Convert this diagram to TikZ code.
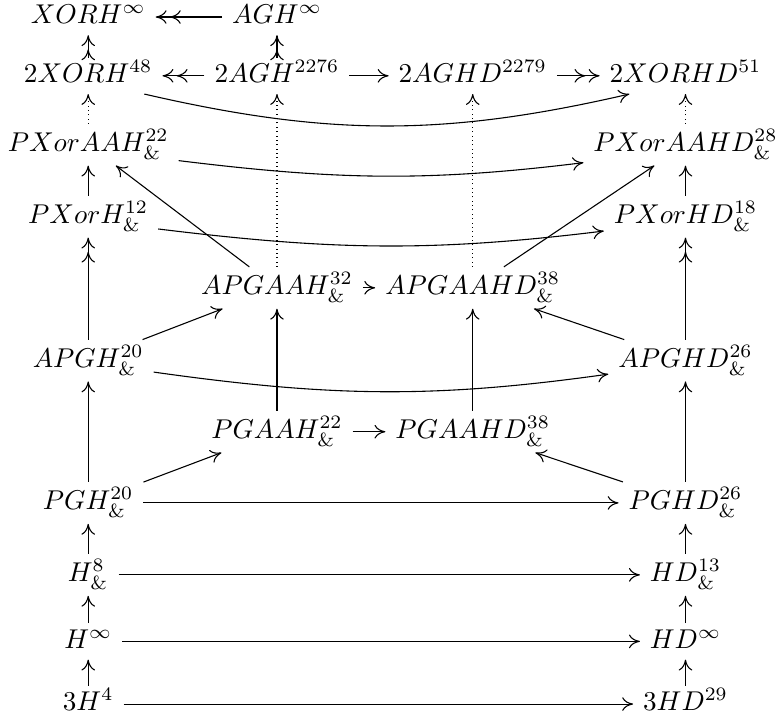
\documentclass[tikz,border=0pt]{standalone}
\usepackage{amsmath,amssymb}
\usepackage{tikz}
\usetikzlibrary{arrows.meta}

\begin{document}
\begin{tikzpicture}[
  >={Computer Modern Rightarrow[length=4pt,width=5pt]},
  obj/.style={inner xsep=3.5pt, inner ysep=1.5pt, text height=8.5pt, text depth=3.5pt},
  objtop/.style={inner xsep=3.5pt, inner ysep=1pt, text height=8pt, text depth=3pt},
  hom/.style={->},
  epi/.style={-{>[sep=1.2pt]>}},
  dothom/.style={->, dash pattern=on 0.3pt off 1.3pt}
]
  \useasboundingbox (0,0) rectangle (10.03,9.29);

  \node[objtop] (xorhinf) at (1.14,9.07) {$XORH^{\infty}$};
  \node[objtop] (aghinf)  at (3.58,9.07) {$AGH^{\infty}$};
  \node[objtop] (xorh2)   at (1.14,8.31) {$2XORH^{48}$};
  \node[objtop] (agh2)    at (3.58,8.31) {$2AGH^{2276}$};
  \node[objtop] (aghd2)   at (6.11,8.31) {$2AGHD^{2279}$};
  \node[objtop] (xorhd2)  at (8.86,8.31) {$2XORHD^{51}$};
  \node[obj] (pxaah)   at (1.14,7.42) {$PXorAAH^{22}_{\&}$};
  \node[obj] (pxaahd)  at (8.86,7.42) {$PXorAAHD^{28}_{\&}$};
  \node[obj] (pxh)     at (1.14,6.49) {$PXorH^{12}_{\&}$};
  \node[obj] (pxhd)    at (8.86,6.49) {$PXorHD^{18}_{\&}$};
  \node[obj] (apgaah)  at (3.58,5.57) {$APGAAH^{32}_{\&}$};
  \node[obj] (apgaahd) at (6.11,5.57) {$APGAAHD^{38}_{\&}$};
  \node[obj] (apgh)    at (1.14,4.63) {$APGH^{20}_{\&}$};
  \node[obj] (apghd)   at (8.86,4.63) {$APGHD^{26}_{\&}$};
  \node[obj] (pgaah)   at (3.58,3.71) {$PGAAH^{22}_{\&}$};
  \node[obj] (pgaahd)  at (6.11,3.71) {$PGAAHD^{38}_{\&}$};
  \node[obj] (pgh)     at (1.14,2.79) {$PGH^{20}_{\&}$};
  \node[obj] (pghd)    at (8.86,2.79) {$PGHD^{26}_{\&}$};
  \node[obj] (h8)      at (1.14,1.86) {$H^{8}_{\&}$};
  \node[obj] (hd13)    at (8.86,1.86) {$HD^{13}_{\&}$};
  \node[objtop] (hinf)  at (1.14,1.00) {$H^{\infty}$};
  \node[objtop] (hdinf) at (8.86,1.00) {$HD^{\infty}$};
  \node[objtop] (h3)    at (1.14,0.19) {$3H^{4}$};
  \node[objtop] (hd3)   at (8.86,0.19) {$3HD^{29}$};

  \draw[epi] (aghinf) -- (xorhinf);
  \draw[epi] (xorh2) -- (xorhinf);
  \draw[epi] (agh2) -- (aghinf);
  \draw[epi] (agh2) -- (xorh2);
  \draw[hom] (agh2) -- (aghd2);
  \draw[epi] (aghd2) -- (xorhd2);
  \draw[hom] (xorh2.-18) to[out=-13,in=193] (xorhd2.198);

  \draw[dothom] (pxaah) -- (xorh2);
  \draw[dothom] (apgaah) -- (agh2);
  \draw[dothom] (apgaahd) -- (aghd2);
  \draw[dothom] (pxaahd) -- (xorhd2);

  \draw[hom] (pxaah.-10) to[out=-7,in=187] (pxaahd.190);
  \draw[hom] (pxh) -- (pxaah);
  \draw[hom] (pxhd) -- (pxaahd);
  \draw[hom] (pxh.-10) to[out=-7,in=187] (pxhd.190);
  \draw[hom] (apgaah) -- (pxaah);
  \draw[hom] (apgaahd) -- (pxaahd);
  \draw[hom] (apgaah) -- (apgaahd);

  \draw[epi] (apgh) -- (pxh);
  \draw[epi] (apghd) -- (pxhd);
  \draw[hom] (apgh) -- (apgaah);
  \draw[hom] (apghd) -- (apgaahd);
  \draw[hom] (apgh.-10) to[out=-8,in=188] (apghd.190);

  \draw[hom] (pgaah) -- (apgaah);
  \draw[hom] (pgaahd) -- (apgaahd);
  \draw[hom] (pgaah) -- (pgaahd);
  \draw[hom] (pgh) -- (pgaah);
  \draw[hom] (pghd) -- (pgaahd);
  \draw[hom] (pgh) -- (apgh);
  \draw[hom] (pghd) -- (apghd);
  \draw[hom] (pgh) -- (pghd);

  \draw[hom] (h8) -- (pgh);
  \draw[hom] (hd13) -- (pghd);
  \draw[hom] (h8) -- (hd13);
  \draw[hom] (hinf) -- (h8);
  \draw[hom] (hdinf) -- (hd13);
  \draw[hom] (hinf) -- (hdinf);
  \draw[hom] (h3) -- (hinf);
  \draw[hom] (hd3) -- (hdinf);
  \draw[hom] (h3) -- (hd3);
\end{tikzpicture}
\end{document}
